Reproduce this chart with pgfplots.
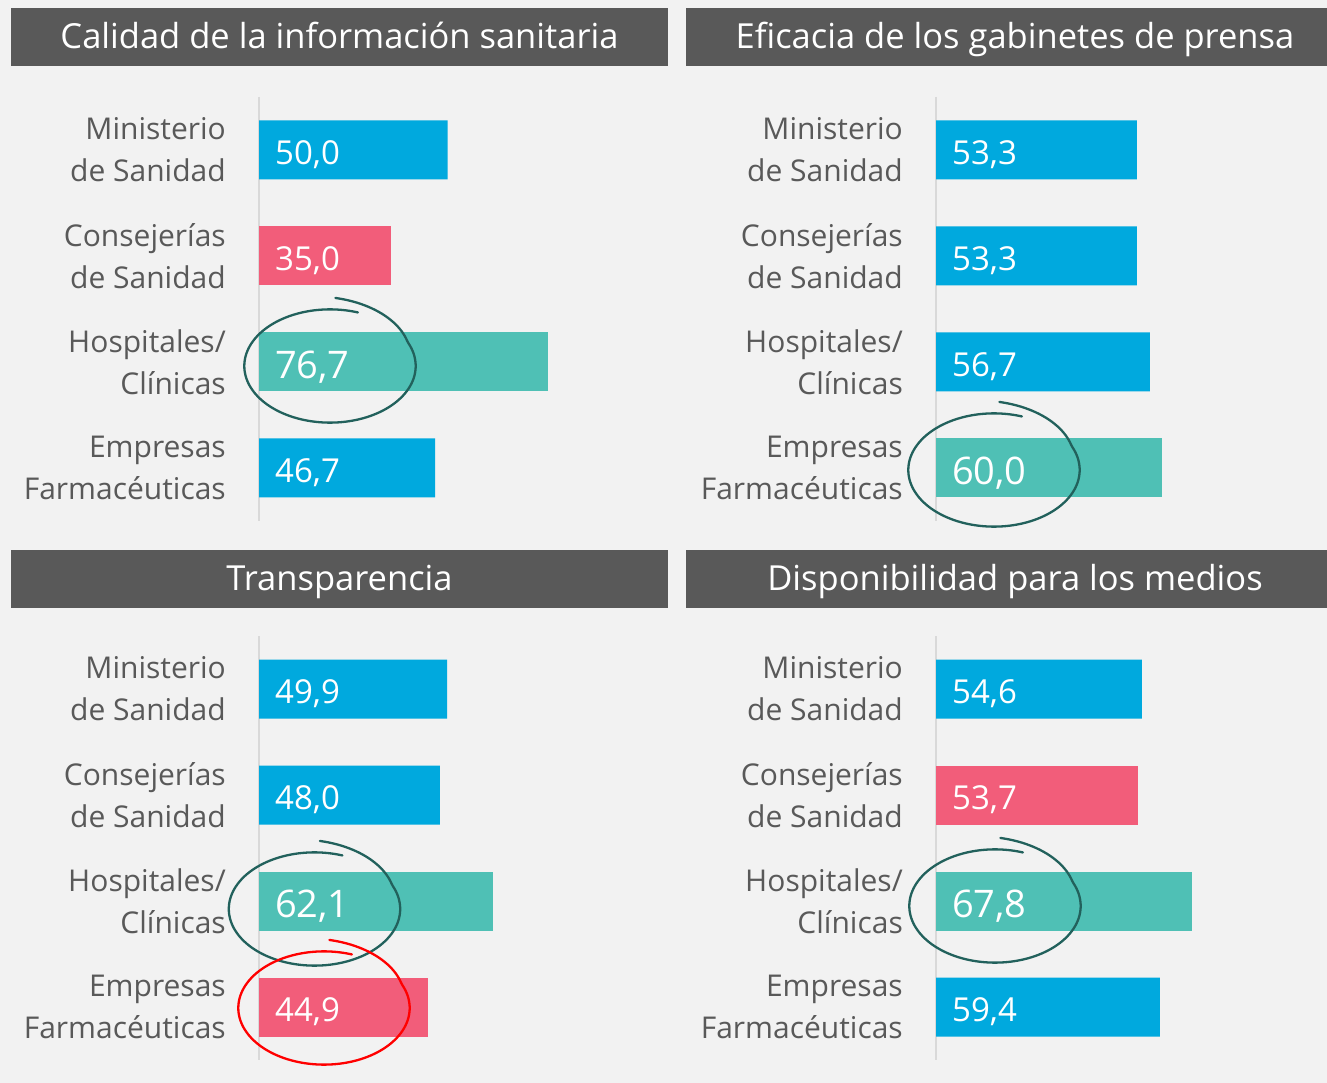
\documentclass[border=0pt]{standalone}
\usepackage{fontspec}
\setmainfont{Open Sans}
\usepackage{pgfplots}
\pgfplotsset{compat=1.18}
\definecolor{bgc}{HTML}{F2F2F2}
\definecolor{titlegray}{HTML}{595959}
\definecolor{labgray}{HTML}{595959}
\definecolor{axgray}{HTML}{D9D9D9}
\definecolor{cblue}{HTML}{00A9DE}
\definecolor{cpink}{HTML}{F25D7A}
\definecolor{cteal}{HTML}{4FC0B5}
\definecolor{cdark}{HTML}{22615C}
\definecolor{cred}{HTML}{FF0000}
\newcommand\labfont{\fontsize{30bp}{42bp}\selectfont}
\newcommand\valfont{\fontsize{33bp}{36bp}\selectfont}
\newcommand\bigfont{\fontsize{38bp}{40bp}\selectfont}
\newcommand\titfont{\fontsize{34.5bp}{38bp}\selectfont}
\pgfplotsset{
  panel/.style={
    scale only axis, width=377bp, height=424bp,
    xmin=0, xmax=100, ymin=-0.5, ymax=3.5, y dir=reverse,
    axis lines*=left,
    x axis line style={draw=none},
    y axis line style={draw=axgray, line width=2bp, -},
    xtick=\empty, ytick={0,1,2,3},
    major tick length=0pt,
    yticklabels={{Ministerio\\de Sanidad},{Consejerías\\de Sanidad},{Hospitales/\\Clínicas},{Empresas\\Farmacéuticas}},
    yticklabel style={align=right, font=\labfont, text=labgray, inner sep=0pt},
    yticklabel shift=33bp,
    clip=false,
  },
  bars/.style={xbar, bar width=59bp, bar shift=0pt, fill=#1, draw=none},
  vals/.style={draw=none, mark=none, point meta=explicit,
    nodes near coords={\pgfmathprintnumber[fixed,fixed zerofill,precision=1,use comma,assume math mode=true]{\pgfplotspointmeta}},
    nodes near coords style={anchor=west, font=#1, text=white, inner sep=0pt, xshift=16bp, yshift=-5bp}},
}
\newcommand\handcircle[3]{%
  \draw[#3, line width=2.3bp, x=1bp, y=1bp, line cap=round]
    plot[domain=71:447, samples=150, smooth, variable=\t]
    ({#1 + 87*(0.985+0.2*max(0,(\t-385)/62))*cos(\t)},
     {1083-#2 + 57.5*(0.985+0.2*max(0,(\t-385)/62))*sin(\t)});
}
\begin{document}
\begin{tikzpicture}
\fill[bgc] (0,0) rectangle (1327bp,1083bp);
\path[use as bounding box] (0,0) rectangle (1327bp,1083bp);
% title bars
\begin{scope}[x=1bp,y=1bp]
\fill[titlegray] (11,1083-66) rectangle (668,1083-8);
\fill[titlegray] (686,1083-66) rectangle (1327,1083-8);
\fill[titlegray] (11,1083-608) rectangle (668,1083-550);
\fill[titlegray] (686,1083-608) rectangle (1327,1083-550);
\node[text=white, font=\titfont, anchor=base, inner sep=0pt] at (339.5,1083-49) {Calidad de la información sanitaria};
\node[text=white, font=\titfont, anchor=base, inner sep=0pt] at (1015,1083-49) {Eficacia de los gabinetes de prensa};
\node[text=white, font=\titfont, anchor=base, inner sep=0pt] at (339.5,1083-591) {Transparencia};
\node[text=white, font=\titfont, anchor=base, inner sep=0pt] at (1015,1083-591) {Disponibilidad para los medios};
\end{scope}
% panel 1
\begin{axis}[panel, at={(259bp,562bp)}, anchor=south west]
\addplot[bars=cblue] coordinates {(50.0,0) (46.7,3)};
\addplot[bars=cpink] coordinates {(35.0,1)};
\addplot[bars=cteal] coordinates {(76.7,2)};
\addplot[vals=\valfont] coordinates {(0,0) [50.0] (0,1) [35.0] (0,3) [46.7]};
\addplot[vals=\bigfont] coordinates {(0,2) [76.7]};
\end{axis}
% panel 2
\begin{axis}[panel, at={(936bp,562bp)}, anchor=south west]
\addplot[bars=cblue] coordinates {(53.3,0) (53.3,1) (56.7,2)};
\addplot[bars=cteal] coordinates {(60.0,3)};
\addplot[vals=\valfont] coordinates {(0,0) [53.3] (0,1) [53.3] (0,2) [56.7]};
\addplot[vals=\bigfont] coordinates {(0,3) [60.0]};
\end{axis}
% panel 3
\begin{axis}[panel, at={(259bp,23bp)}, anchor=south west]
\addplot[bars=cblue] coordinates {(49.9,0) (48.0,1)};
\addplot[bars=cteal] coordinates {(62.1,2)};
\addplot[bars=cpink] coordinates {(44.9,3)};
\addplot[vals=\valfont] coordinates {(0,0) [49.9] (0,1) [48.0] (0,3) [44.9]};
\addplot[vals=\bigfont] coordinates {(0,2) [62.1]};
\end{axis}
% panel 4
\begin{axis}[panel, at={(936bp,23bp)}, anchor=south west]
\addplot[bars=cblue] coordinates {(54.6,0) (59.4,3)};
\addplot[bars=cpink] coordinates {(53.7,1)};
\addplot[bars=cteal] coordinates {(67.8,2)};
\addplot[vals=\valfont] coordinates {(0,0) [54.6] (0,1) [53.7] (0,3) [59.4]};
\addplot[vals=\bigfont] coordinates {(0,2) [67.8]};
\end{axis}
% annotation circles
\handcircle{330}{366}{cdark}
\handcircle{994}{470}{cdark}
\handcircle{314.5}{909}{cdark}
\handcircle{324}{1008}{cred}
\handcircle{995}{906}{cdark}
\end{tikzpicture}
\end{document}
